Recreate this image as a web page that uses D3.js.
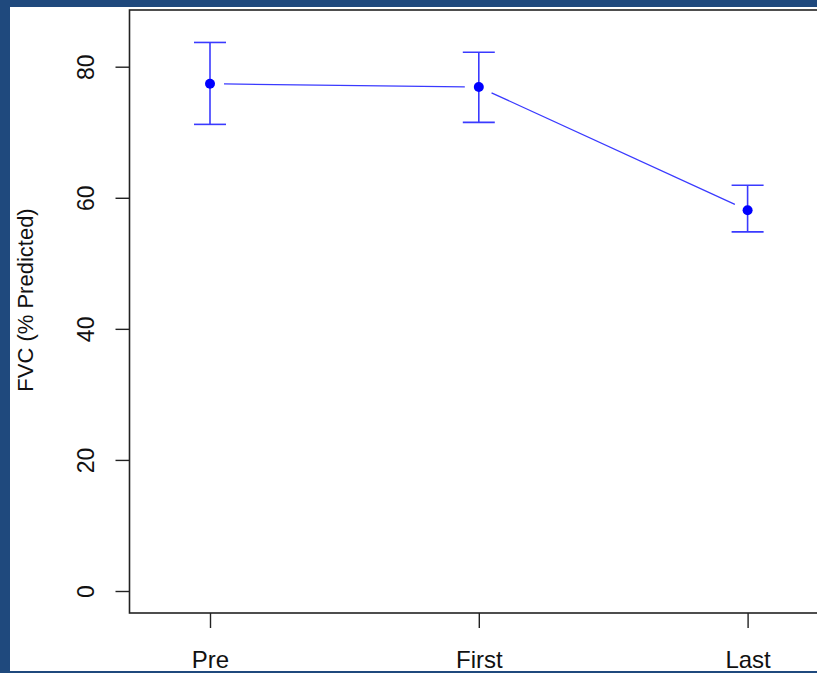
<!DOCTYPE html>
<html>
<head>
<meta charset="utf-8">
<script src="https://cdn.jsdelivr.net/npm/d3@7"></script>
<style>
  html, body { margin: 0; padding: 0; background: #1f497d; }
  svg { display: block; }
</style>
</head>
<body>
<svg id="chart" width="817" height="673"></svg>
<script>
// Visits and FVC (% predicted): mean with upper/lower error bounds
const visits = ["Pre", "First", "Last"];
const meanFVC = [77.4, 76.9, 58.1];
const upperFVC = [83.7, 82.2, 61.9];
const lowerFVC = [71.2, 71.5, 54.8];
const yTicks = [0, 20, 40, 60, 80];
const yTitle = "FVC (% Predicted)";

const W = 817, H = 673;
const svg = d3.select("#chart");

// white panel inside the blue frame
svg.append("rect").attr("x", 10).attr("y", 7).attr("width", W - 10).attr("height", 664).attr("fill", "#ffffff");

const box = { left: 129.5, top: 10, bottom: 613, right: 830 };

const x = d3.scalePoint().domain(visits).range([210, 747.6]);
const y = d3.scaleLinear().domain([0, 80]).range([591, 66.7]);

const font = "'Liberation Sans', Arial, sans-serif";

// plot box (right edge runs past the frame)
svg.append("rect")
  .attr("x", box.left).attr("y", box.top)
  .attr("width", box.right - box.left).attr("height", box.bottom - box.top)
  .attr("fill", "none").attr("stroke", "#222").attr("stroke-width", 1.6);

// y axis
const yAxis = svg.append("g").attr("transform", `translate(${box.left},0)`)
  .call(d3.axisLeft(y).tickValues(yTicks).tickSize(14).tickPadding(0).tickFormat(d3.format("d")));
yAxis.select(".domain").remove();
yAxis.selectAll(".tick line").attr("stroke", "#222").attr("stroke-width", 1.4);
yAxis.selectAll(".tick text")
  .attr("x", null).attr("dy", null)
  .attr("transform", "translate(-36,0) rotate(-90)")
  .attr("text-anchor", "middle")
  .attr("font-family", font).attr("font-size", 23).attr("fill", "#111");

// x axis
const xAxis = svg.append("g").attr("transform", `translate(0,${box.bottom})`)
  .call(d3.axisBottom(x).tickSize(15).tickPadding(0));
xAxis.select(".domain").remove();
xAxis.selectAll(".tick line").attr("stroke", "#222").attr("stroke-width", 1.4);
xAxis.selectAll(".tick text")
  .attr("dy", null).attr("y", 55)
  .attr("font-family", font).attr("font-size", 24).attr("fill", "#111");

// y title
svg.append("text")
  .attr("transform", `translate(33,300) rotate(-90)`)
  .attr("text-anchor", "middle")
  .attr("font-family", font).attr("font-size", 22).attr("fill", "#111")
  .text(yTitle);

const rows = visits.map((v, i) => ({ v, m: meanFVC[i], hi: upperFVC[i], lo: lowerFVC[i] }));
const lineCol = "#3a3aff";

// connecting segments, leaving a gap around each point
const gap = 14;
for (let i = 0; i < rows.length - 1; i++) {
  const x0 = x(rows[i].v), y0 = y(rows[i].m);
  const x1 = x(rows[i + 1].v), y1 = y(rows[i + 1].m);
  const len = Math.hypot(x1 - x0, y1 - y0);
  const ux = (x1 - x0) / len, uy = (y1 - y0) / len;
  svg.append("line")
    .attr("x1", x0 + ux * gap).attr("y1", y0 + uy * gap)
    .attr("x2", x1 - ux * gap).attr("y2", y1 - uy * gap)
    .attr("stroke", lineCol).attr("stroke-width", 1.3);
}

// error bars
const cap = 16;
const eb = svg.append("g").attr("stroke", lineCol).attr("stroke-width", 1.6);
rows.forEach(r => {
  const cx = x(r.v);
  eb.append("line").attr("x1", cx).attr("x2", cx).attr("y1", y(r.hi)).attr("y2", y(r.lo));
  eb.append("line").attr("x1", cx - cap).attr("x2", cx + cap).attr("y1", y(r.hi)).attr("y2", y(r.hi));
  eb.append("line").attr("x1", cx - cap).attr("x2", cx + cap).attr("y1", y(r.lo)).attr("y2", y(r.lo));
});

// mean points
svg.append("g").selectAll("circle").data(rows).join("circle")
  .attr("cx", d => x(d.v)).attr("cy", d => y(d.m)).attr("r", 5)
  .attr("fill", "#0000ff");

// thin blue strip along the bottom edge
svg.append("rect").attr("x", 0).attr("y", 671).attr("width", W).attr("height", 2).attr("fill", "#1f497d");
</script>
</body>
</html>
